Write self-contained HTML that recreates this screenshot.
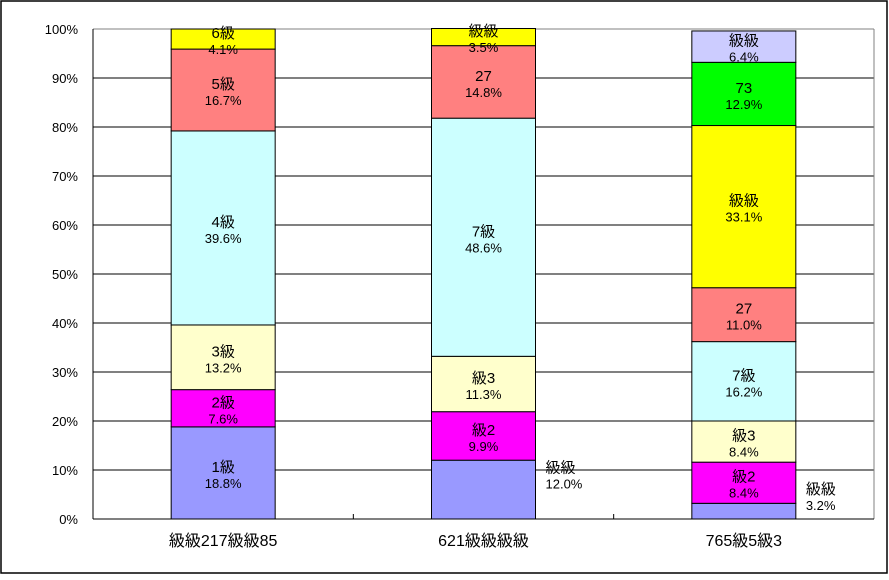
<!DOCTYPE html>
<html><head><meta charset="utf-8"><style>
body{margin:0;background:#fff;}
svg text{font-family:"Liberation Sans","Noto Sans CJK JP",sans-serif;}
</style></head><body>
<svg id="chart" width="889" height="575" xmlns="http://www.w3.org/2000/svg">
<rect x="1" y="1" width="886" height="572" fill="#fff" stroke="#000" stroke-width="1.5"/>
<g id="grid"></g><g id="bars"></g><g id="axes"></g>
</svg>
<script>
const categories = ["級級217級級85","621級級級級","765級5級3"];
const segNames = [
  ["1級","2級","3級","4級","5級","6級"],
  ["級級","級2","級3","7級","27","級級"],
  ["級級","級2","級3","7級","27","級級","73","級級"]
];
const segValues = [
  [18.8,7.6,13.2,39.6,16.7,4.1],
  [12.0,9.9,11.3,48.6,14.8,3.5],
  [3.2,8.4,8.4,16.2,11.0,33.1,12.9,6.4]
];
const outsideLabel = [false,true,true];
const segColors = ["#9999FF","#FF00FF","#FFFFCC","#CCFFFF","#FF8080","#FFFF00","#00FF00","#CCCCFF"];
const yTicks = [0,10,20,30,40,50,60,70,80,90,100];

const NS="http://www.w3.org/2000/svg";
const X0=93,X1=874,Y0=519,Y1=29;
const catW=(X1-X0)/categories.length, barW=104;
const y=v=>Y0-(v/100)*(Y0-Y1);
const xc=i=>X0+catW*(i+0.5);
function mk(tag,attrs,parent){const e=document.createElementNS(NS,tag);for(const k in attrs)e.setAttribute(k,attrs[k]);parent.appendChild(e);return e;}
const grid=document.getElementById('grid'),bars=document.getElementById('bars'),axes=document.getElementById('axes');

yTicks.forEach(t=>{
  const yy=y(t);
  if(t>0){const l=mk('line',{x1:X0,x2:X1,y1:yy,y2:yy,stroke:t===100?'#808080':'#000','stroke-width':1},grid);
  
  }
  const tx=mk('text',{x:78,y:yy+5,'text-anchor':'end','font-size':13},axes);
  tx.textContent=t+'%';
  
  
});
const r=mk('line',{x1:X1,x2:X1,y1:Y1,y2:Y0,stroke:'#808080'},grid);


const ya=mk('line',{x1:X0,x2:X0,y1:Y1,y2:Y0,stroke:'#000'},axes);


const xa=mk('line',{x1:X0,x2:X1,y1:Y0,y2:Y0,stroke:'#000'},axes);


for(let i=1;i<categories.length;i++){const tk=mk('line',{x1:X0+catW*i,x2:X0+catW*i,y1:Y0,y2:Y0-5,stroke:'#000'},axes);

}

categories.forEach((c,i)=>{
  const t=mk('text',{x:xc(i),y:546,'text-anchor':'middle','font-size':16},axes);
  t.textContent=c;
  
  
  let cum=0;
  const bx=xc(i)-barW/2;
  segValues[i].forEach((v,j)=>{
    const top=y(cum+v),bot=y(cum);
    const rc=mk('rect',{x:bx,y:top,width:barW,height:bot-top,fill:segColors[j],stroke:'#000','stroke-width':1},bars);
    
    
    const mid=(top+bot)/2;
    let lx=xc(i),anchor='middle',ly=mid;
    if(j===0&&outsideLabel[i]){lx=bx+barW+10;anchor='start';ly=mid-16;}
    const t1=mk('text',{x:lx,y:ly-1,'text-anchor':anchor,'font-size':15},bars);
    t1.textContent=segNames[i][j];
    
    
    const t2=mk('text',{x:lx,y:ly+15,'text-anchor':anchor,'font-size':13},bars);
    t2.textContent=v.toFixed(1)+'%';
    
    
    cum+=v;
  });
});
</script>
</body></html>
